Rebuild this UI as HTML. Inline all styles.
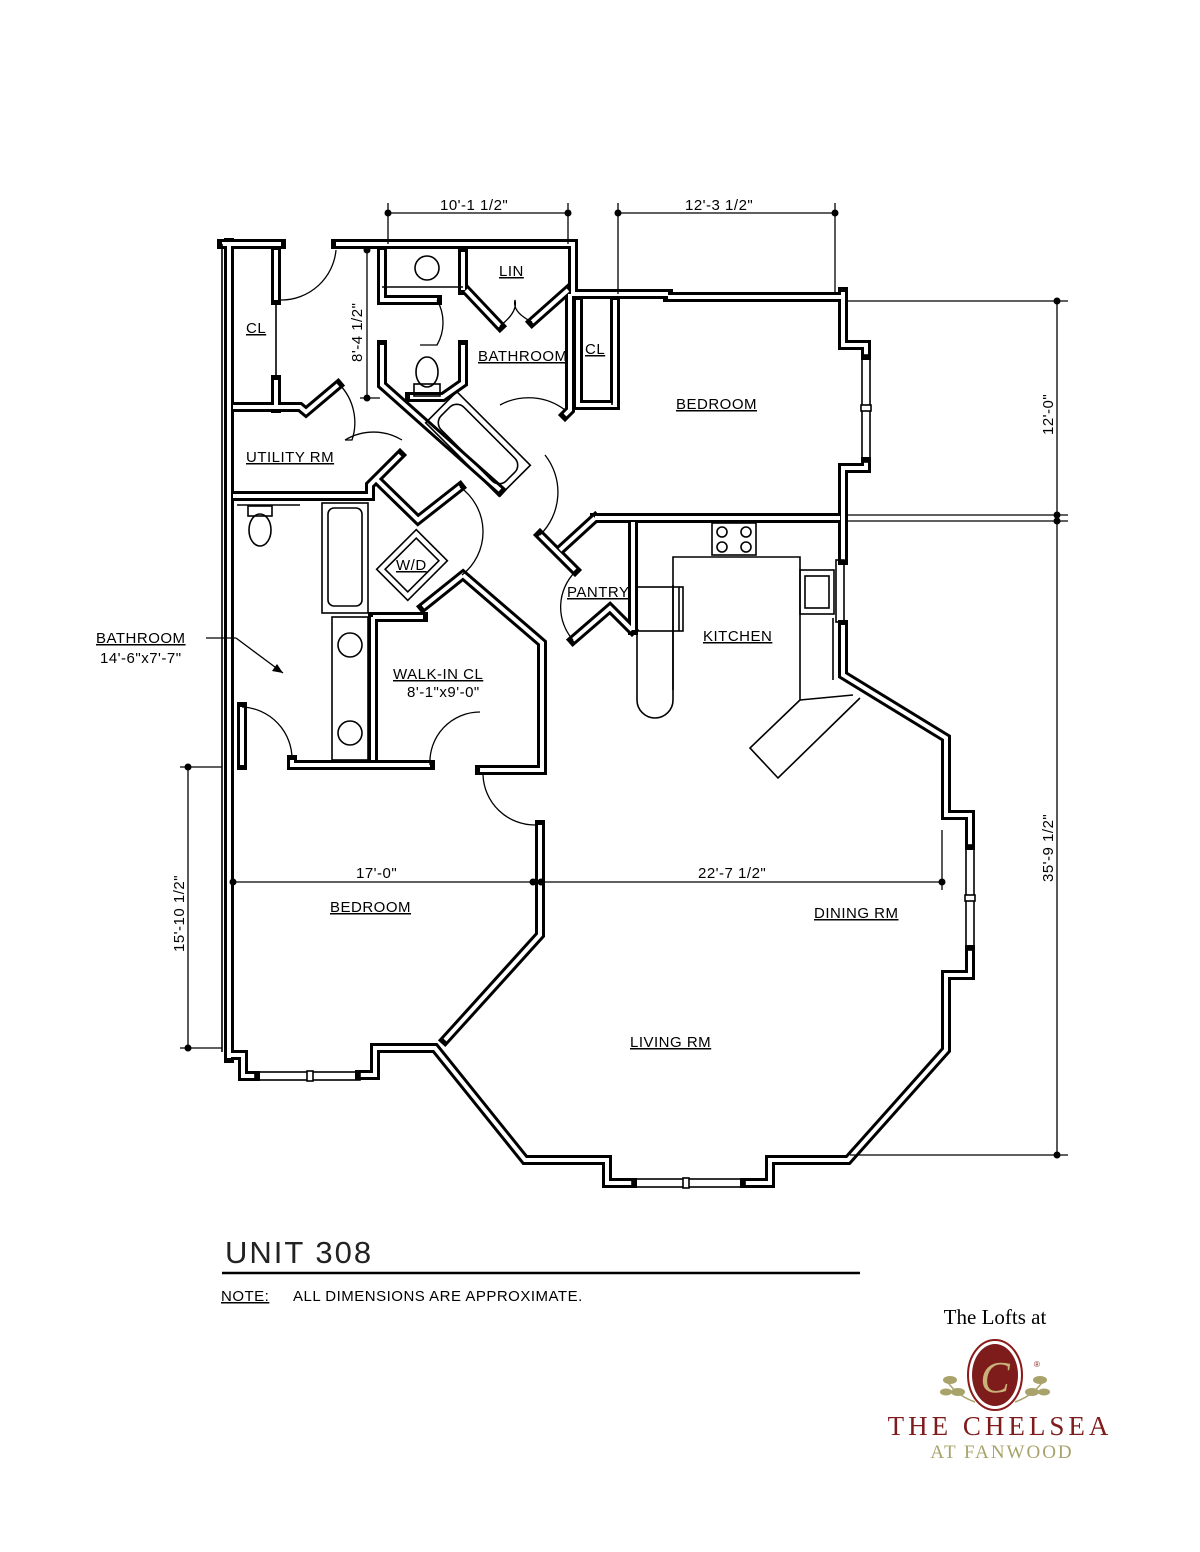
<!DOCTYPE html>
<html><head><meta charset="utf-8"><style>
html,body{margin:0;padding:0;background:#fff}
svg{display:block}
.w{fill:none;stroke:#000;stroke-width:10;stroke-linejoin:miter;stroke-linecap:square}
.wi{fill:none;stroke:#fff;stroke-width:4;stroke-linejoin:miter;stroke-linecap:butt}
.t{fill:none;stroke:#000;stroke-width:1.6}
.d{fill:none;stroke:#000;stroke-width:1.3}
.lb{font-family:"Liberation Sans",sans-serif;font-size:15px;fill:#000;text-decoration:underline;letter-spacing:0.5px}
.dm{font-family:"Liberation Sans",sans-serif;font-size:15px;fill:#000;letter-spacing:0.5px}
</style></head><body>
<svg width="1200" height="1552" viewBox="0 0 1200 1552" xmlns="http://www.w3.org/2000/svg">
<defs>
<g id="walls">
<path d="M229,243 V1058"/>
<path d="M222,244 H281"/>
<path d="M276,250 V300"/>
<path d="M276,380 V408"/>
<path d="M233,407 H300 L306,412 L338,385"/>
<path d="M336,244 H573 V294 H668"/>
<path d="M668,297 H843"/>
<path d="M382,250 V300 H437"/>
<path d="M382,345 V385 L500,490"/>
<path d="M463,345 V383 L443,397 H410"/>
<path d="M463,252 V290"/>
<path d="M466,290 L500,326"/>
<path d="M568,290 L532,322"/>
<path d="M570,294 V410 L565,415"/>
<path d="M578,300 V405 H615 V300"/>
<path d="M233,496 H370 V485 L400,455"/>
<path d="M377,480 L418,520 L460,487"/>
<path d="M423,607 L463,575 L542,643 V770 H480"/>
<path d="M430,765 H292 V760"/>
<path d="M373,617 V760"/>
<path d="M373,617 H423"/>
<path d="M242,707 V765"/>
<path d="M595,518 H840"/>
<path d="M595,518 L560,550"/>
<path d="M540,535 L575,570"/>
<path d="M633,522 V630"/>
<path d="M573,640 L610,608 L632,630"/>
<path d="M843,292 V345 H866 V355"/>
<path d="M866,462 V468 H843 V560"/>
<path d="M843,625 V675 L946,738 V815 H970 V845"/>
<path d="M970,950 V975 H946 V1050 L848,1160 H770 V1183 H745"/>
<path d="M632,1183 H607 V1160 H525 L435,1048 H375 V1075 H360"/>
<path d="M255,1076 H243 V1055 H229"/>
<path d="M540,825 V935 L445,1040"/>
</g>
</defs>
<g class="w"><use href="#walls"/></g>
<g class="wi"><use href="#walls"/></g>
<!-- outer left line -->
<line x1="222" y1="244" x2="222" y2="1052" class="t"/>
<!-- windows -->
<g class="t">
<rect x="862" y="355" width="8" height="107"/><rect x="861" y="405" width="10" height="6" fill="#fff"/>
<rect x="966" y="845" width="8" height="105"/><rect x="965" y="895" width="10" height="6" fill="#fff"/>
<rect x="632" y="1179" width="113" height="8"/><rect x="683" y="1178" width="6" height="10" fill="#fff"/>
<rect x="255" y="1072" width="105" height="8"/><rect x="307" y="1071" width="6" height="10" fill="#fff"/>
<rect x="836" y="560" width="8" height="62"/>
</g>
<!-- thin details -->
<g class="t">
<line x1="276" y1="300" x2="276" y2="380"/>
<line x1="382" y1="287" x2="463" y2="287"/>
<line x1="612" y1="300" x2="612" y2="405"/>
<circle cx="427" cy="268" r="12"/>
<ellipse cx="427" cy="372" rx="11" ry="15"/><rect x="414" y="384" width="26" height="12"/>
<g transform="translate(478,444) rotate(45)"><rect x="-52" y="-22" width="104" height="44"/><rect x="-46" y="-16" width="92" height="32" rx="10"/></g>
<g transform="translate(412,565) rotate(-45)"><rect x="-28" y="-22" width="56" height="44"/><rect x="-22" y="-16" width="44" height="32"/></g>
<rect x="322" y="503" width="46" height="110"/><rect x="328" y="508" width="34" height="98" rx="6"/>
<rect x="332" y="617" width="36" height="143"/>
<circle cx="350" cy="645" r="12"/><circle cx="350" cy="733" r="12"/>
<ellipse cx="260" cy="530" rx="11" ry="16"/><rect x="248" y="506" width="24" height="10"/>
<line x1="237" y1="505" x2="300" y2="505"/>
<!-- kitchen -->
<rect x="712" y="523" width="44" height="32"/>
<circle cx="722" cy="532" r="5"/><circle cx="746" cy="532" r="5"/><circle cx="722" cy="547" r="5"/><circle cx="746" cy="547" r="5"/>
<rect x="800" y="570" width="34" height="44"/><rect x="805" y="576" width="24" height="32"/>
<path d="M673,690 V557 H800 V700 L750,748 L778,778 L860,698"/>
<path d="M800,700 L853,695"/>
<path d="M637,522 V700 A18,18 0 0 0 673,700 V585"/>
<rect x="637" y="587" width="46" height="44"/><line x1="679" y1="587" x2="679" y2="631"/>
<line x1="833" y1="618" x2="833" y2="680"/>
</g>
<!-- door arcs -->
<g class="d">
<path d="M281,300 A55,55 0 0 0 336,250"/>
<path d="M437,300 A45,45 0 0 1 437,345 H420"/>
<path d="M500,326 Q518,312 515,300 Q512,312 532,322"/>
<path d="M500,405 A60,60 0 0 1 565,410"/>
<path d="M340,385 A55,55 0 0 1 352,440 L345,440"/>
<path d="M345,440 A55,55 0 0 1 402,440"/>
<path d="M460,487 A55,55 0 0 1 462,575"/>
<path d="M540,535 A60,60 0 0 0 545,455"/>
<path d="M573,640 A50,50 0 0 1 575,572"/>
<path d="M242,707 A52,52 0 0 1 292,760"/>
<path d="M430,765 A50,50 0 0 1 480,712"/>
<path d="M483,775 A52,52 0 0 0 535,825"/>
</g>
<!-- dimensions -->
<g class="d" stroke-width="1.4">
<line x1="388" y1="213" x2="568" y2="213"/><line x1="388" y1="203" x2="388" y2="244"/><line x1="568" y1="203" x2="568" y2="244"/>
<line x1="618" y1="213" x2="835" y2="213"/><line x1="618" y1="203" x2="618" y2="294"/><line x1="835" y1="203" x2="835" y2="294"/>
<line x1="367" y1="250" x2="367" y2="398"/><line x1="360" y1="398" x2="380" y2="398"/>
<line x1="845" y1="301" x2="1068" y2="301"/><line x1="845" y1="515" x2="1068" y2="515"/><line x1="845" y1="521" x2="1068" y2="521"/>
<line x1="1057" y1="301" x2="1057" y2="1155"/><line x1="850" y1="1155" x2="1068" y2="1155"/>
<line x1="180" y1="767" x2="222" y2="767"/><line x1="180" y1="1048" x2="222" y2="1048"/><line x1="188" y1="767" x2="188" y2="1048"/>
<line x1="233" y1="882" x2="942" y2="882"/><line x1="942" y1="830" x2="942" y2="890"/>
<line x1="206" y1="638" x2="236" y2="638"/><line x1="236" y1="638" x2="283" y2="673"/>
</g>
<path d="M283,673 L272,671 L277,664 Z"/>
<g fill="#000">
<circle cx="388" cy="213" r="3.5"/><circle cx="568" cy="213" r="3.5"/><circle cx="618" cy="213" r="3.5"/><circle cx="835" cy="213" r="3.5"/>
<circle cx="367" cy="250" r="3.5"/><circle cx="367" cy="398" r="3.5"/>
<circle cx="1057" cy="301" r="3.5"/><circle cx="1057" cy="515" r="3.5"/><circle cx="1057" cy="521" r="3.5"/><circle cx="1057" cy="1155" r="3.5"/>
<circle cx="188" cy="767" r="3.5"/><circle cx="188" cy="1048" r="3.5"/>
<circle cx="233" cy="882" r="3.5"/><circle cx="533" cy="882" r="3.5"/><circle cx="541" cy="882" r="3.5"/><circle cx="942" cy="882" r="3.5"/>
</g>
<!-- labels -->
<text class="dm" x="440" y="210">10'-1 1/2"</text>
<text class="dm" x="685" y="210">12'-3 1/2"</text>
<text class="dm" transform="translate(362,362) rotate(-90)">8'-4 1/2"</text>
<text class="dm" transform="translate(1053,435) rotate(-90)">12'-0"</text>
<text class="dm" transform="translate(1053,882) rotate(-90)">35'-9 1/2"</text>
<text class="dm" transform="translate(184,952) rotate(-90)">15'-10 1/2"</text>
<text class="dm" x="356" y="878">17'-0"</text>
<text class="dm" x="698" y="878">22'-7 1/2"</text>
<text class="lb" x="499" y="276">LIN</text>
<text class="lb" x="246" y="333">CL</text>
<text class="lb" x="585" y="354">CL</text>
<text class="lb" x="478" y="361">BATHROOM</text>
<text class="lb" x="676" y="409">BEDROOM</text>
<text class="lb" x="246" y="462">UTILITY RM</text>
<text class="lb" x="396" y="570">W/D</text>
<text class="lb" x="567" y="597">PANTRY</text>
<text class="lb" x="703" y="641">KITCHEN</text>
<text class="lb" x="96" y="643">BATHROOM</text>
<text class="dm" x="100" y="663">14'-6"x7'-7"</text>
<text class="lb" x="393" y="679">WALK-IN CL</text>
<text class="dm" x="407" y="697">8'-1"x9'-0"</text>
<text class="lb" x="330" y="912">BEDROOM</text>
<text class="lb" x="814" y="918">DINING RM</text>
<text class="lb" x="630" y="1047">LIVING RM</text>
<text x="225" y="1263" font-family="Liberation Sans,sans-serif" font-size="31" letter-spacing="2" fill="#222" font-weight="300">UNIT 308</text>
<line x1="222" y1="1273" x2="860" y2="1273" stroke="#000" stroke-width="2.5"/>
<text class="lb" x="221" y="1301">NOTE:</text>
<text class="dm" x="293" y="1301">ALL DIMENSIONS ARE APPROXIMATE.</text>
<!-- logo -->
<text x="995" y="1324" text-anchor="middle" font-family="Liberation Serif,serif" font-size="21" fill="#000">The Lofts at</text>
<ellipse cx="995" cy="1375" rx="27" ry="35" fill="#fff" stroke="#8b1a1a" stroke-width="2"/>
<ellipse cx="995" cy="1375" rx="23" ry="31" fill="#7e1b1b"/>
<text x="995" y="1392" text-anchor="middle" font-family="Liberation Serif,serif" font-style="italic" font-size="44" fill="#c9b27a">C</text>
<g fill="#a8a36a"><ellipse cx="950" cy="1380" rx="7" ry="4"/><ellipse cx="958" cy="1392" rx="7" ry="4"/><ellipse cx="946" cy="1392" rx="6" ry="3.5"/><ellipse cx="1040" cy="1380" rx="7" ry="4"/><ellipse cx="1032" cy="1392" rx="7" ry="4"/><ellipse cx="1044" cy="1392" rx="6" ry="3.5"/></g>
<path d="M945,1378 Q955,1395 975,1402 M1045,1378 Q1035,1395 1015,1402" stroke="#a8a36a" stroke-width="1.5" fill="none"/>
<text x="1034" y="1367" font-family="Liberation Sans,sans-serif" font-size="8" fill="#8b1a1a">®</text>
<text x="1000" y="1435" text-anchor="middle" font-family="Liberation Serif,serif" font-size="27" letter-spacing="4" fill="#7e1b1b">THE CHELSEA</text>
<text x="1002" y="1458" text-anchor="middle" font-family="Liberation Serif,serif" font-size="19" letter-spacing="2" fill="#a8a36a">AT FANWOOD</text>
</svg>
</body></html>
